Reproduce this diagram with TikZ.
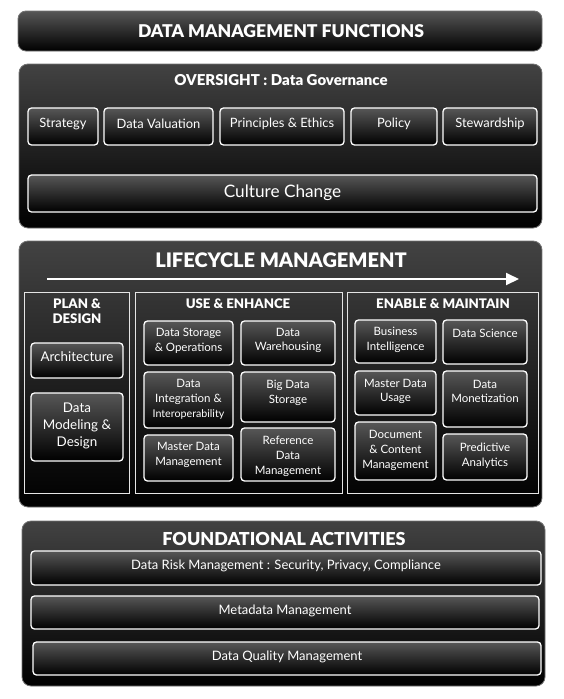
\documentclass[tikz,border=0pt]{standalone}
\usepackage{fontspec}
\setmainfont{Lato}
\newfontfamily\heavyfont{Lato Black}
\usetikzlibrary{arrows.meta}

\tikzset{
  panel/.style={rounded corners=9pt, draw=black!55, line width=0.8pt,
                top color=black!74, bottom color=black},
  headbar/.style={rounded corners=8pt, draw=black!55, line width=0.8pt,
                top color=black!66, middle color=black!96, bottom color=black},
  card/.style={rounded corners=3.5pt, draw=white, line width=1.3pt,
               top color=black!66, middle color=black, bottom color=black},
  column/.style={draw=black!10, line width=0.9pt},
  txt/.style={text=white, align=center, inner sep=0pt},
  bigtitle/.style={txt, font=\heavyfont\fontsize{17.6}{19}\selectfont},
  foottitle/.style={txt, font=\heavyfont\fontsize{17.9}{19}\selectfont},
  lifetitle/.style={txt, font=\heavyfont\fontsize{20}{22}\selectfont},
  ovtitle/.style={txt, font=\heavyfont\fontsize{15}{17}\selectfont},
  subtitle/.style={txt, font=\heavyfont\fontsize{13.2}{15}\selectfont},
  rowtxt/.style={txt, font=\fontsize{12.9}{15}\selectfont},
  bigtxt/.style={txt, font=\fontsize{17.2}{19}\selectfont},
  plantxt/.style={txt, font=\fontsize{13.4}{17}\selectfont},
  smalltxt/.style={txt, font=\fontsize{11.5}{14.8}\selectfont},
  footxt/.style={txt, font=\fontsize{13}{15}\selectfont},
}

% a framed card: name, corner, corner, text position, text, text style
\newcommand\cardbox[6]{%
  \path[card] (#2) rectangle (#3);
  \node[#6] (#1) at (#4) {#5};}

\begin{document}
\begin{tikzpicture}[x=1pt, y=-1pt]
\useasboundingbox (0,0) rectangle (564,699);

% ---- heading bar ----
\path[headbar] (18,11) rectangle (542,51);
\node[bigtitle] (dmf) at (281,31) {DATA MANAGEMENT FUNCTIONS};

% ---- oversight ----
\path[panel] (19,64) rectangle (542,228);
\node[ovtitle] (ovt) at (281,80) {OVERSIGHT : Data Governance};
\cardbox{strat}{28,108}{98,145}{63,124}{Strategy}{rowtxt}
\cardbox{valu}{104,108}{213,145}{158.5,124}{Data Valuation}{rowtxt}
\cardbox{princ}{220,108}{344,145}{282,124}{Principles \& Ethics}{rowtxt}
\cardbox{policy}{351,108}{437,145}{394,124}{Policy}{rowtxt}
\cardbox{stew}{443,108}{537,145}{490,124}{Stewardship}{rowtxt}
\cardbox{cult}{28,175}{537,212}{282.5,193}{Culture Change}{bigtxt}

% ---- lifecycle ----
\path[panel] (19,241) rectangle (542,507);
\node[lifetitle] (lct) at (281,260) {LIFECYCLE MANAGEMENT};
\coordinate (arrA) at (47,279);
\coordinate (arrB) at (519,279);
\draw[white, line width=2pt, -{Triangle[length=13pt,width=12pt]}] (arrA) -- (arrB);

% plan & design
\path[column] (24,292) rectangle (129,493);
\node[subtitle] (pdt) at (77,311.5) {PLAN \&\\DESIGN};
\cardbox{arch}{31,343}{123,378}{77,357}{Architecture}{plantxt}
\cardbox{model}{31,393}{123,461}{77,425.5}{Data\\Modeling \&\\Design}{plantxt}

% use & enhance
\path[column] (135,292) rectangle (342,493);
\node[subtitle] (uet) at (238,304) {USE \& ENHANCE};
\cardbox{stor}{144,321}{233,365}{188.5,340.5}{Data Storage\\\& Operations}{smalltxt}
\cardbox{ware}{241,321}{335,365}{288,340.5}{Data\\Warehousing}{smalltxt}
\cardbox{integ}{144,372}{233,428}{188.5,399.5}{Data\\Integration \&\\{\fontsize{10.7}{13}\selectfont Interoperability}}{smalltxt}
\cardbox{bigd}{241,372}{335,422}{288,392.5}{Big Data\\Storage}{smalltxt}
\cardbox{mdm}{144,435}{233,481}{188.5,455}{Master Data\\Management}{smalltxt}
\cardbox{refd}{241,428}{335,481}{288,456.5}{Reference\\Data\\Management}{smalltxt}

% enable & maintain
\path[column] (347,292) rectangle (538,493);
\node[subtitle] (emt) at (443,304) {ENABLE \& MAINTAIN};
\cardbox{bint}{355,320}{436,363}{395.5,340}{Business\\Intelligence}{smalltxt}
\cardbox{dsci}{443,320}{527,364}{485,333}{Data Science}{smalltxt}
\cardbox{mdu}{355,371}{436,415}{395.5,391.5}{Master Data\\Usage}{smalltxt}
\cardbox{monet}{443,371}{527,427}{485,391.5}{Data\\Monetization}{smalltxt}
\cardbox{docm}{355,422}{436,480}{395.5,450.5}{Document\\\& Content\\Management}{smalltxt}
\cardbox{pred}{443,434}{527,480}{485,455.5}{Predictive\\Analytics}{smalltxt}

% ---- foundational activities ----
\path[panel] (22,521) rectangle (545,686);
\node[foottitle] (fat) at (284,539) {FOUNDATIONAL ACTIVITIES};
\cardbox{risk}{31,551}{541,585}{286,566}{Data Risk Management : Security, Privacy, Compliance}{footxt}
\cardbox{meta}{31,596}{539,629}{285,611}{Metadata Management}{footxt}
\cardbox{qual}{33,642}{541,675}{287,657}{Data Quality Management}{footxt}

\end{tikzpicture}
\end{document}
